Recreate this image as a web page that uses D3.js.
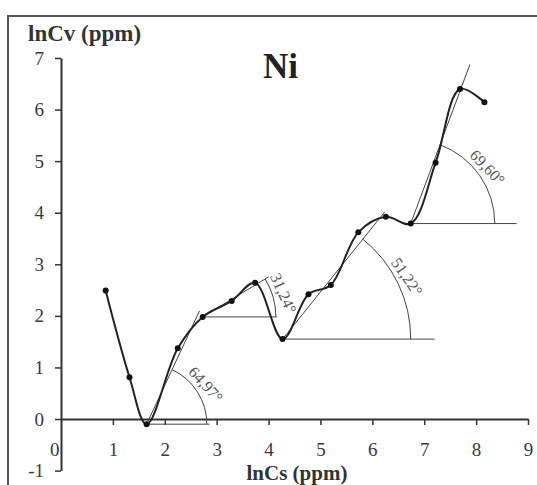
<!DOCTYPE html>
<html>
<head>
<meta charset="utf-8">
<script src="https://cdn.jsdelivr.net/npm/d3@7"></script>
<style>
  html, body { margin: 0; padding: 0; background: #fff; }
  svg { display: block; }
  svg text { font-family: "Liberation Serif", "Times New Roman", Times, "DejaVu Serif", "Noto Serif", serif; }
</style>
</head>
<body>
<svg id="chart" width="537" height="485"></svg>
<script>
// Ni: lnCv against lnCs, with fitted slopes for each rising stretch
const lnCs = [0.86, 1.32, 1.65, 2.25, 2.73, 3.29, 3.74, 4.27, 4.77, 5.20, 5.73, 6.26, 6.74, 7.22, 7.69, 8.16];
const lnCv = [2.49, 0.81, -0.10, 1.37, 1.98, 2.29, 2.64, 1.55, 2.42, 2.60, 3.62, 3.92, 3.79, 4.97, 6.40, 6.14];

// Slope segments: starting sample, slope angle (degrees)
const segStart = [2, 4, 7, 12];
const segAngle = [64.97, 31.24, 51.22, 69.60];
// Extents of each construction, in lnCs units
const segBase = [1.21, 1.43, 2.93, 2.04];
const segFit = [1.02, 1.27, 1.97, 1.14];
const segArc = [1.16, 1.41, 2.47, 1.62];

const xTicks = [0, 1, 2, 3, 4, 5, 6, 7, 8, 9];
const yTicks = [-1, 0, 1, 2, 3, 4, 5, 6, 7];

const svg = d3.select("#chart");

const x = d3.scaleLinear().domain([0, 9]).range([61, 528]);
const y = d3.scaleLinear().domain([-1, 7]).range([470.6, 58]);

// outer frame
svg.append("rect")
  .attr("x", 8).attr("y", 16).attr("width", 540).attr("height", 480)
  .attr("fill", "none").attr("stroke", "#555").attr("stroke-width", 2);

// x axis sits on lnCv = 0
const xAxis = svg.append("g")
  .attr("transform", `translate(0,${y(0)})`)
  .call(d3.axisBottom(x).tickValues(xTicks).tickSize(6).tickSizeOuter(0).tickPadding(17.5).tickFormat(d => String(d)));
xAxis.selectAll(".tick").filter(d => d === 0).select("line").remove();
xAxis.selectAll(".tick").filter(d => d === 0).select("text")
  .attr("text-anchor", "end").attr("x", -2);

const yAxis = svg.append("g")
  .attr("transform", `translate(${x(0)},0)`)
  .call(d3.axisLeft(y).tickValues(yTicks).tickSize(6).tickSizeOuter(0).tickPadding(11).tickFormat(d => String(d)));

[xAxis, yAxis].forEach(g => {
  g.attr("font-family", null);
  g.select(".domain").attr("stroke", "#333").attr("stroke-width", 2);
  g.selectAll(".tick line").attr("stroke", "#333").attr("stroke-width", 1.5);
  g.selectAll(".tick text")
    .attr("fill", "#3a3a3a")
    .style("font-size", "19px");
});

// axis titles and element label
svg.append("text")
  .attr("x", 28).attr("y", 41)
  .style("font-size", "23px").style("font-weight", "bold")
  .attr("fill", "#333").text("lnCv (ppm)");
svg.append("text")
  .attr("x", 297).attr("y", 480)
  .attr("text-anchor", "middle")
  .style("font-size", "21px").style("font-weight", "bold")
  .attr("fill", "#333").text("lnCs (ppm)");
svg.append("text")
  .attr("x", 263).attr("y", 78)
  .style("font-size", "35px").style("font-weight", "bold")
  .attr("fill", "#222").text("Ni");

// slope constructions: baseline, fitted line, angle arc and label
const construct = svg.append("g")
  .attr("fill", "none").attr("stroke", "#444").attr("stroke-width", 1);

segStart.forEach((s, i) => {
  const cx = x(lnCs[s]);
  const cy = y(lnCv[s]);
  const a = segAngle[i] * Math.PI / 180;

  construct.append("line")
    .attr("x1", cx).attr("y1", cy)
    .attr("x2", x(lnCs[s] + segBase[i])).attr("y2", cy);

  const dx = x(lnCs[s] + segFit[i]) - cx;
  construct.append("line")
    .attr("x1", cx).attr("y1", cy)
    .attr("x2", cx + dx).attr("y2", cy - dx * Math.tan(a));

  const R = x(lnCs[s] + segArc[i]) - cx;
  const p = d3.path();
  p.moveTo(cx + R, cy);
  p.arc(cx, cy, R, 0, -a, true);
  construct.append("path").attr("d", p.toString());

  const la = 0.52 * segAngle[i];
  const lr = R + 11;
  const lx = cx + lr * Math.cos(la * Math.PI / 180);
  const ly = cy - lr * Math.sin(la * Math.PI / 180);
  svg.append("text")
    .attr("transform", `translate(${lx},${ly}) rotate(${90 - la - 8})`)
    .attr("text-anchor", "middle")
    .attr("dominant-baseline", "central")
    .style("font-size", "16px")
    .attr("fill", "#555")
    .text(segAngle[i].toFixed(2).replace(".", ",") + "\u00b0");
});

// data curve and markers
const pts = lnCs.map((v, i) => [v, lnCv[i]]);
svg.append("path")
  .datum(pts)
  .attr("fill", "none").attr("stroke", "#222").attr("stroke-width", 2)
  .attr("d", d3.line().x(d => x(d[0])).y(d => y(d[1])).curve(d3.curveCatmullRom.alpha(0.5)));

svg.append("g").selectAll("circle")
  .data(pts).join("circle")
  .attr("cx", d => x(d[0])).attr("cy", d => y(d[1]))
  .attr("r", 3).attr("fill", "#111");
</script>
</body>
</html>
